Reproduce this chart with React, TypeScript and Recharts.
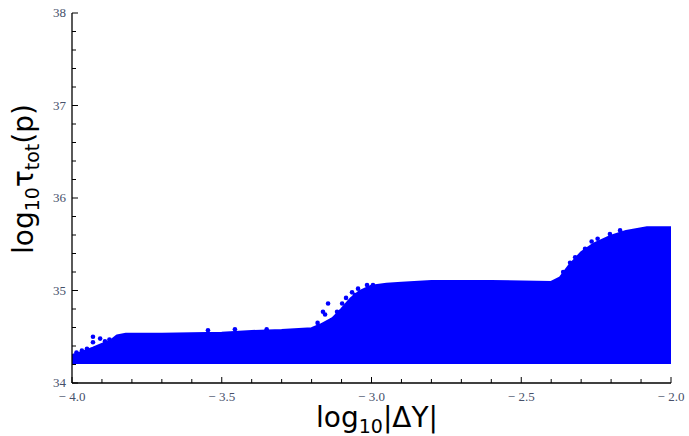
import React from 'react';
import { ComposedChart, Area, Scatter, XAxis, YAxis, Label } from 'recharts';

// Upper edge of the dense cloud of points (log10|ΔY| -> log10 τ_tot)
const edgeX = [-4.0, -3.97, -3.93, -3.9, -3.87, -3.85, -3.82, -3.7, -3.5, -3.4, -3.3, -3.2, -3.17, -3.13, -3.1, -3.07, -3.04, -3.0, -2.95, -2.9, -2.8, -2.6, -2.4, -2.37, -2.34, -2.3, -2.26, -2.2, -2.15, -2.08, -2.0];
const edgeTop = [34.3, 34.33, 34.38, 34.42, 34.46, 34.51, 34.53, 34.53, 34.54, 34.56, 34.57, 34.59, 34.63, 34.7, 34.8, 34.91, 34.99, 35.05, 35.07, 35.08, 35.1, 35.1, 35.09, 35.14, 35.27, 35.41, 35.5, 35.59, 35.64, 35.68, 35.68];
const BASE = 34.22;

// Scattered points above the dense cloud
const outlierX = [-3.93, -3.906, -3.93, -3.967, -3.95, -3.985, -3.89, -3.875, -3.546, -3.456, -3.35, -3.145, -3.098, -3.162, -3.115, -3.155, -3.132, -3.065, -3.015, -2.995, -3.055, -3.18, -3.105, -3.085, -3.045, -2.36, -2.337, -2.32, -2.287, -2.337, -2.204, -2.265, -2.245, -2.17];
const outlierY = [34.5, 34.48, 34.44, 34.35, 34.37, 34.33, 34.45, 34.47, 34.57, 34.58, 34.58, 34.86, 34.86, 34.77, 34.77, 34.74, 34.68, 34.98, 35.06, 35.06, 34.95, 34.65, 34.7, 34.92, 35.02, 35.2, 35.3, 35.36, 35.45, 35.24, 35.61, 35.53, 35.56, 35.65];

const xMajorTicks = [-4.0, -3.5, -3.0, -2.5, -2.0];
const xTickLabels = ['\u2212 4.0', '\u2212 3.5', '\u2212 3.0', '\u2212 2.5', '\u2212 2.0'];
const xMinorTicks = [-3.9, -3.8, -3.7, -3.6, -3.4, -3.3, -3.2, -3.1, -2.9, -2.8, -2.7, -2.6, -2.4, -2.3, -2.2, -2.1];
const yMajorTicks = [34, 35, 36, 37, 38];
const yTickLabels = ['34', '35', '36', '37', '38'];
const yMinorTicks = [34.2, 34.4, 34.6, 34.8, 35.2, 35.4, 35.6, 35.8, 36.2, 36.4, 36.6, 36.8, 37.2, 37.4, 37.6, 37.8];

const areaData = edgeX.map((x, i) => ({ x, range: [BASE, edgeTop[i]] }));
const scatterData = outlierX.map((x, i) => ({ x, y: outlierY[i] }));

const BLUE = '#0000ff';
const TICK_COLOR = '#46506a';

const XTick = (props: any) => {
  const { x, y, payload } = props;
  const idx = xMajorTicks.findIndex((m) => Math.abs(m - payload.value) < 1e-6);
  const major = idx >= 0;
  return (
    <g>
      <line x1={x} x2={x} y1={y} y2={y - (major ? 6 : 4)} stroke="#000" strokeWidth={1} />
      {major && (
        <text x={x} y={y + 18} textAnchor="middle" fontFamily="Liberation Serif" fontSize={13} fill={TICK_COLOR}>
          {xTickLabels[idx]}
        </text>
      )}
    </g>
  );
};

const YTick = (props: any) => {
  const { x, y, payload } = props;
  const idx = yMajorTicks.findIndex((m) => Math.abs(m - payload.value) < 1e-6);
  const major = idx >= 0;
  return (
    <g>
      <line x1={x} x2={x + (major ? 6 : 4)} y1={y} y2={y} stroke="#000" strokeWidth={1} />
      {major && (
        <text x={x - 6} y={y + 4} textAnchor="end" fontFamily="Liberation Serif" fontSize={13} fill={TICK_COLOR}>
          {yTickLabels[idx]}
        </text>
      )}
    </g>
  );
};

const XTitle = () => (
  <text x={377} y={427} textAnchor="middle" fontFamily="DejaVu Sans" fontSize={28} fill="#000">
    log<tspan dy={6} fontSize={19}>10</tspan>
    <tspan dy={-6}>|ΔY|</tspan>
  </text>
);

const YTitle = () => (
  <text x={33} y={179} transform="rotate(-90, 33, 179)" textAnchor="middle" fontFamily="DejaVu Sans" fontSize={28} fill="#000">
    log<tspan dy={6} fontSize={19}>10</tspan>
    <tspan dy={-6}>τ</tspan>
    <tspan dy={6} fontSize={19}>tot</tspan>
    <tspan dy={-6}>(p)</tspan>
  </text>
);

const Dot = (p: any) => <circle cx={p.cx} cy={p.cy} r={2.3} fill={BLUE} />;

export default function App() {
  return (
    <div style={{ position: 'absolute', left: 0, top: 0, width: 689, height: 436, background: '#fff' }}>
      <ComposedChart width={689} height={436} data={areaData} margin={{ top: 13, right: 18, bottom: 0, left: 0 }}>
        <XAxis
          type="number"
          dataKey="x"
          domain={[-4, -2]}
          allowDataOverflow
          ticks={[...xMajorTicks, ...xMinorTicks].sort((a, b) => a - b)}
          interval={0}
          tick={<XTick />}
          tickLine={false}
          tickSize={0}
          tickMargin={0}
          height={53}
          axisLine={{ stroke: '#000', strokeWidth: 1.3 }}
        >
          <Label content={<XTitle />} />
        </XAxis>
        <YAxis
          type="number"
          domain={[34, 38]}
          allowDataOverflow
          ticks={[...yMajorTicks, ...yMinorTicks].sort((a, b) => a - b)}
          interval={0}
          tick={<YTick />}
          tickLine={false}
          tickSize={0}
          tickMargin={0}
          width={72}
          axisLine={{ stroke: '#000', strokeWidth: 1.3 }}
        >
          <Label content={<YTitle />} />
        </YAxis>
        <Area
          type="linear"
          dataKey="range"
          stroke={BLUE}
          strokeWidth={2.5}
          strokeLinejoin="round"
          fill={BLUE}
          fillOpacity={1}
          dot={false}
          activeDot={false}
          isAnimationActive={false}
        />
        <Scatter data={scatterData} dataKey="y" shape={<Dot />} isAnimationActive={false} />
      </ComposedChart>
    </div>
  );
}
